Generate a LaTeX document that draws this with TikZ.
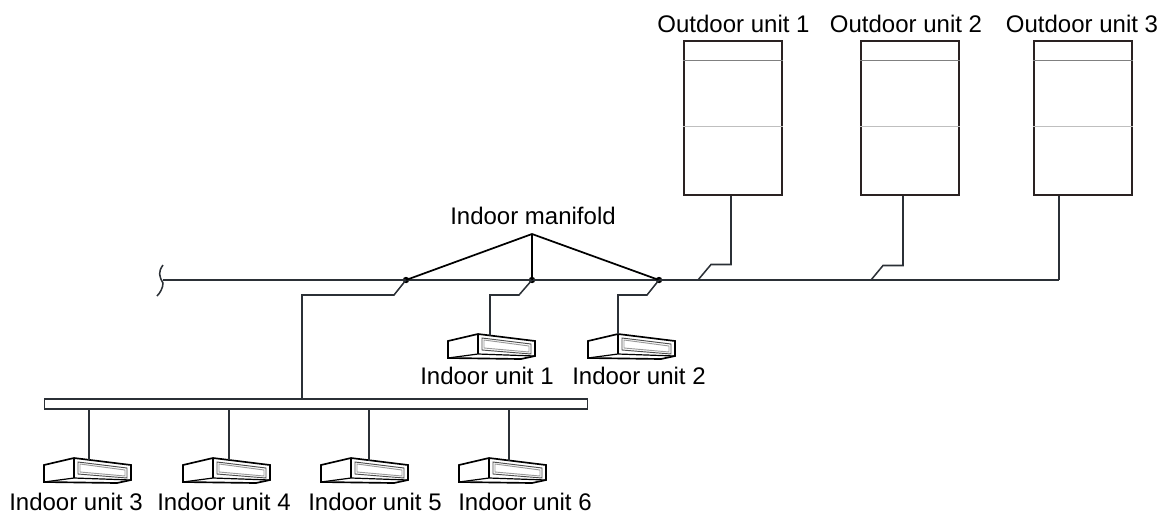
\documentclass[tikz,border=0pt]{standalone}
\usepackage{fontspec}
\setmainfont{Liberation Sans}
\usetikzlibrary{calc}
\definecolor{pipecol}{HTML}{2B3036}
\definecolor{casecol}{HTML}{2A2222}
\tikzstyle{pipe} = [draw=pipecol, line width=1.15pt]
\tikzstyle{manifold} = [draw=black, line width=1.3pt]
\tikzstyle{joint} = [circle, fill=black, inner sep=0pt, minimum size=4.8pt]
\tikzstyle{outbox} = [draw=casecol, fill=white, line width=1.5pt, rectangle,
    minimum width=73.5pt, minimum height=115.5pt, inner sep=0pt]
\tikzstyle{busbar} = [draw=pipecol, fill=white, line width=1.15pt, rectangle,
    minimum width=407pt, minimum height=7.5pt, inner sep=0pt]
\tikzstyle{unitlabel} = [anchor=base, inner sep=0pt, font=\fontsize{18pt}{20pt}\selectfont]
\tikzset{
    ductunit/.pic={
        \draw[black, line width=1.25pt, line join=miter, fill=white]
            (-30,7) -- (0,0) -- (57,7) -- (57,22) -- (43,25) -- (-30,24) -- cycle;
        \draw[black, line width=1.2pt] (0,0) -- (0,20);
        \draw[black, line width=.9pt] (-30,24) -- (0,20) -- (57,22);
        \draw[black!70, line width=.7pt] (4,4) -- (53,10) -- (53,20) -- (4,16) -- cycle;
        \draw[black!40, line width=.7pt] (6,6) -- (51,12) -- (51,18) -- (6,14) -- cycle;
    }
}
\begin{document}
\begin{tikzpicture}[x=0.75pt, y=-0.75pt]
    \useasboundingbox (0,0) rectangle (1166,515);

    \node[unitlabel] (lblout1) at (733.5,32) {Outdoor unit 1};
    \node[unitlabel] (lblout2) at (906,32) {Outdoor unit 2};
    \node[unitlabel] (lblout3) at (1082,32) {Outdoor unit 3};
    \node[unitlabel] (lblmani) at (533,224) {Indoor manifold};
    \node[unitlabel] (lblin1) at (487,384) {Indoor unit 1};
    \node[unitlabel] (lblin2) at (639,384) {Indoor unit 2};
    \node[unitlabel] (lblin3) at (76,510) {Indoor unit 3};
    \node[unitlabel] (lblin4) at (224,510) {Indoor unit 4};
    \node[unitlabel] (lblin5) at (375,510) {Indoor unit 5};
    \node[unitlabel] (lblin6) at (525,510) {Indoor unit 6};

    \node[outbox] (out1) at (732.5,118) {};
    \node[outbox] (out2) at (909.5,118) {};
    \node[outbox] (out3) at (1082.5,118) {};
    \foreach \n in {1,2,3} {
        \draw[gray, line width=.6pt] ($(out\n.north west)+(0,20)$) -- ($(out\n.north east)+(0,20)$);
        \draw[black!25, line width=.6pt] ($(out\n.north west)+(0,86)$) -- ($(out\n.north east)+(0,86)$);
    }

    \coordinate (lineend) at (163,280);
    \coordinate (lineout) at (1059,280);
    \coordinate (apex) at (532,234);
    \coordinate (tap1) at (698,280);
    \coordinate (tap2) at (871,280);
    \node[joint] (jleft) at (406,280) {};
    \node[joint] (jmid) at (532,280) {};
    \node[joint] (jright) at (659,280) {};

    \draw[pipe] (lineend) -- (lineout);
    \draw[pipe] (163,265) .. controls (158,272) and (159,276) .. (163,283)
        .. controls (163,288) and (160,293) .. (157,296);

    \draw[manifold] (jleft.center) -- (apex) -- (jright.center);
    \draw[manifold] (apex) -- (jmid.center);

    \draw[pipe] (out1.south -| 731,0) |- (711,264.5) -- (tap1);
    \draw[pipe] (out2.south -| 903,0) |- (883,265.5) -- (tap2);
    \draw[pipe] (out3.south -| lineout) -- (lineout);

    \pic at (478,334) {ductunit};
    \pic at (618,334) {ductunit};
    \pic at (74,458) {ductunit};
    \pic at (213,458) {ductunit};
    \pic at (351,458) {ductunit};
    \pic at (489,458) {ductunit};

    \node[busbar] (bar) at (316,404) {};

    \draw[pipe] (jmid.center) -- (519,295) -| (490,335.5);
    \draw[pipe] (jright.center) -- (647,295) -| (618,334);
    \draw[pipe] (jleft.center) -- (394,295) -| (302,399);
    \foreach \x/\y in {89/460,229/460,369/461,509/461} {
        \draw[pipe] (bar.south -| \x,0) -- (\x,\y);
    }
\end{tikzpicture}
\end{document}
